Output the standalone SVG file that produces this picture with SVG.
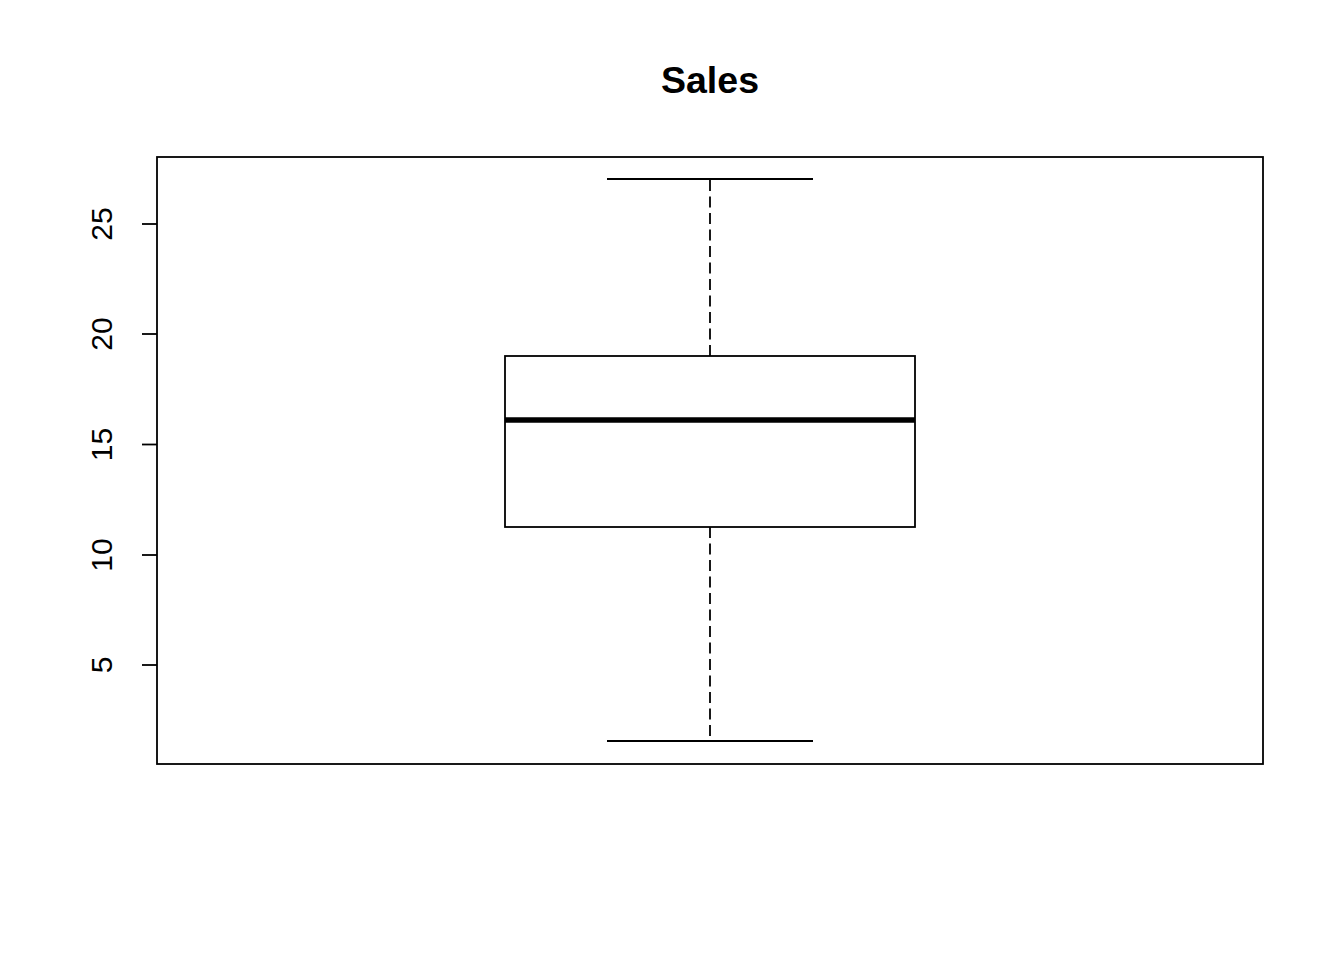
<svg xmlns="http://www.w3.org/2000/svg" width="1344" height="960" viewBox="0 0 1344 960">
<style>
.ln{stroke:#000;stroke-width:1.8;fill:none;stroke-linecap:butt}
.tk{font-family:"Liberation Sans",Arial,sans-serif;font-size:30px;fill:#000;text-anchor:middle}
.ttl{font-family:"Liberation Sans",Arial,sans-serif;font-size:37.5px;font-weight:bold;fill:#000;text-anchor:middle}
</style>
<rect width="1344" height="960" fill="#fff"/>
<text class="ttl" x="710" y="93">Sales</text>
<g id="frame">
<rect class="ln" x="157" y="157" width="1106" height="607"/>
</g>
<g id="yaxis">
<line class="ln" x1="142" y1="224" x2="157" y2="224"/>
<line class="ln" x1="142" y1="334" x2="157" y2="334"/>
<line class="ln" x1="142" y1="444.5" x2="157" y2="444.5"/>
<line class="ln" x1="142" y1="555" x2="157" y2="555"/>
<line class="ln" x1="142" y1="665" x2="157" y2="665"/>
<text class="tk" transform="translate(112,224) rotate(-90)">25</text>
<text class="tk" transform="translate(112,334) rotate(-90)">20</text>
<text class="tk" transform="translate(112,444.5) rotate(-90)">15</text>
<text class="tk" transform="translate(112,555) rotate(-90)">10</text>
<text class="tk" transform="translate(112,665) rotate(-90)">5</text>
</g>
<g id="connectors">
<line class="ln" x1="710" y1="356" x2="710" y2="179" stroke-dasharray="11,5.5"/>
<line class="ln" x1="710" y1="527" x2="710" y2="741" stroke-dasharray="11,5.5"/>
</g>
<g id="whiskers">
<line class="ln" x1="607" y1="179" x2="813" y2="179"/>
<line class="ln" x1="607" y1="741" x2="813" y2="741"/>
</g>
<g id="box">
<rect class="ln" x="505" y="356" width="410" height="171" fill="#fff"/>
<line x1="505" y1="420" x2="915" y2="420" stroke="#000" stroke-width="5.4"/>
</g>
</svg>
